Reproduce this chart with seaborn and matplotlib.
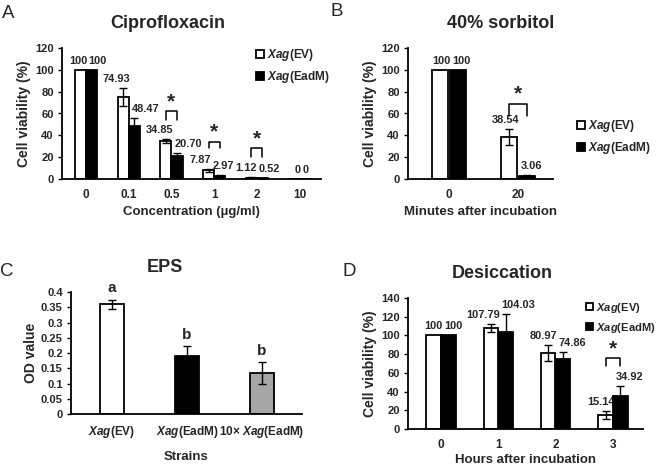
import matplotlib
matplotlib.use("Agg")
import matplotlib.pyplot as plt
from matplotlib.patches import Patch
from matplotlib.ticker import FuncFormatter
import pandas as pd
import seaborn as sns

# ---- data ----
strains = ["EV", "EadM"]

conc = ["0", "0.1", "0.5", "1", "2", "10"]
cipro_ev = [100, 74.93, 34.85, 7.87, 1.12, 0]
cipro_ev_err = [0, 8.0, 1.5, 1.0, 0.3, 0]
cipro_eadm = [100, 48.47, 20.70, 2.97, 0.52, 0]
cipro_eadm_err = [0, 7.2, 3.4, 0.6, 0.2, 0]
cipro_sig = [(2, 62, 8), (3, 34, 6), (4, 28, 7.5)]   # (category, bracket top, arm)

minutes = ["0", "20"]
sorb_ev = [100, 38.54]
sorb_ev_err = [0, 7.3]
sorb_eadm = [100, 3.06]
sorb_eadm_err = [0, 0.6]
sorb_sig = [(1, 69, 11.5)]

eps_strains = ["$\\mathit{Xag}$(EV)", "$\\mathit{Xag}$(EadM)", "10\u00d7 $\\mathit{Xag}$(EadM)"]
eps_od = [0.36, 0.19, 0.135]
eps_err = [0.015, 0.032, 0.036]
eps_letters = ["a", "b", "b"]

hours = ["0", "1", "2", "3"]
desic_ev = [100, 107.79, 80.97, 15.14]
desic_ev_err = [0, 4.5, 8.8, 4.0]
desic_eadm = [100, 104.03, 74.86, 34.92]
desic_eadm_err = [0, 19.0, 7.7, 11.0]
desic_sig = [(3, 75.5, 8.5)]

sns.set_style("ticks")
plt.rcParams["font.family"] = ["Liberation Sans", "DejaVu Sans"]
plt.rcParams["font.weight"] = "bold"
plt.rcParams["axes.labelweight"] = "bold"
plt.rcParams["mathtext.fontset"] = "custom"
plt.rcParams["mathtext.it"] = "Liberation Sans:italic:bold"
plt.rcParams["mathtext.rm"] = "Liberation Sans:bold"

W, H = 658, 465
fig = plt.figure(figsize=(W / 100, H / 100), dpi=100)


def px_axes(l, r, t, b):
    return fig.add_axes([l / W, 1 - b / H, (r - l) / W, (b - t) / H])


def fmt(v):
    return str(int(v)) if float(v).is_integer() else f"{v:.2f}"


def style_axes(ax, ylim, yticks, xlim):
    ax.set_ylim(*ylim)
    ax.set_yticks(yticks)
    ax.set_xlim(*xlim)
    for s in ["top", "right"]:
        ax.spines[s].set_visible(False)
    for s in ["left", "bottom"]:
        ax.spines[s].set_linewidth(1.3)
        ax.spines[s].set_color("black")
    ax.tick_params(axis="x", length=0, pad=7, labelsize=8.5)
    ax.tick_params(axis="y", length=3, width=1, pad=3, labelsize=8, color="black")
    for lab in ax.get_xticklabels() + ax.get_yticklabels():
        lab.set_fontweight("bold")


def grouped(ax, cats, ev, ev_err, eadm, eadm_err, width, gap, nudge=None):
    df = pd.DataFrame({
        "cat": cats * 2,
        "strain": ["EV"] * len(cats) + ["EadM"] * len(cats),
        "value": ev + eadm,
    })
    sns.barplot(data=df, x="cat", y="value", hue="strain", order=cats,
                hue_order=strains, palette={"EV": "white", "EadM": "black"},
                edgecolor="black", linewidth=1.3, width=width, gap=gap,
                errorbar=None, legend=False, ax=ax)
    centers = []
    for cont, errs in zip(ax.containers, [ev_err, eadm_err]):
        xs = []
        for p, e in zip(cont.patches, errs):
            p.set_zorder(2)
            x = p.get_x() + p.get_width() / 2
            xs.append(x)
            if e > 0:
                ax.errorbar(x, p.get_height(), yerr=e, fmt="none", ecolor="black",
                            elinewidth=1, capsize=3, capthick=1, zorder=3)
        centers.append(xs)
    # value labels sit side by side around the category centre
    nudge = nudge or [0] * len(cats)
    for i in range(len(cats)):
        xc = (centers[0][i] + centers[1][i]) / 2
        dx = 1.5 + nudge[i]
        ax.annotate(fmt(ev[i]), (xc, ev[i] + ev_err[i]), xytext=(dx - 0.5, 3),
                    textcoords="offset points", ha="right", va="bottom",
                    fontsize=7.9, fontweight="bold", zorder=1.5)
        ax.annotate(fmt(eadm[i]), (xc, eadm[i] + eadm_err[i]), xytext=(dx + 0.5, 3),
                    textcoords="offset points", ha="left", va="bottom",
                    fontsize=7.9, fontweight="bold", zorder=1.5)
    return centers


def brackets(ax, centers, sigs):
    for i, top, arm in sigs:
        x1, x2 = centers[0][i], centers[1][i]
        ax.plot([x1, x1, x2, x2], [top - arm, top, top, top - arm], color="black", lw=1.1)
        ax.text((x1 + x2) / 2, top, "*", ha="center", va="bottom",
                fontsize=15, fontweight="bold")


legend_handles = [
    Patch(facecolor="white", edgecolor="black", linewidth=1.3, label="$\\mathit{Xag}$(EV)"),
    Patch(facecolor="black", edgecolor="black", linewidth=1.3, label="$\\mathit{Xag}$(EadM)"),
]


def add_legend(ax, x, y, size=8.5):
    ax.legend(handles=legend_handles, loc="upper left", bbox_to_anchor=(x / W, 1 - y / H),
              bbox_transform=fig.transFigure, frameon=False, borderpad=0,
              handlelength=0.65, handleheight=0.65, handletextpad=0.25, labelspacing=0.55,
              prop={"weight": "bold", "size": size})


# ---- A: Ciprofloxacin ----
axA = px_axes(62, 321, 48, 179)
cA = grouped(axA, conc, cipro_ev, cipro_ev_err, cipro_eadm, cipro_eadm_err, 0.52, 0,
             nudge=[0, 0, 0, -3, -1, 0])
brackets(axA, cA, cipro_sig)
style_axes(axA, (0, 120), range(0, 121, 20), (-0.56, 5.5))
axA.set_xlabel("Concentration (\u00b5g/ml)", fontsize=9.5, labelpad=4)
axA.set_ylabel("Cell viability (%)", fontsize=10, labelpad=3)
add_legend(axA, 250, 41)

# ---- B: 40% sorbitol ----
axB = px_axes(408, 553, 48, 179)
cB = grouped(axB, minutes, sorb_ev, sorb_ev_err, sorb_eadm, sorb_eadm_err, 0.52, 0.08)
brackets(axB, cB, sorb_sig)
style_axes(axB, (0, 120), range(0, 121, 20), (-0.594, 1.507))
axB.set_xlabel("Minutes after incubation", fontsize=9.5, labelpad=4)
axB.set_ylabel("Cell viability (%)", fontsize=10, labelpad=3)
add_legend(axB, 571, 112)

# ---- C: EPS ----
axC = px_axes(71, 302, 292, 414)
dfC = pd.DataFrame({"strain": eps_strains, "od": eps_od})
sns.barplot(data=dfC, x="strain", y="od", hue="strain", order=eps_strains,
            palette=["white", "black", "#a6a6a6"], edgecolor="black", linewidth=1.3,
            width=0.33, errorbar=None, legend=False, ax=axC)
for p, v, e, let in zip(axC.patches, eps_od, eps_err, eps_letters):
    x = p.get_x() + p.get_width() / 2
    axC.errorbar(x, v, yerr=e, fmt="none", ecolor="black", elinewidth=1,
                 capsize=3, capthick=1, zorder=3)
    axC.annotate(let, (x, v + e), xytext=(0, 3), textcoords="offset points",
                 ha="center", va="bottom", fontsize=11, fontweight="bold")
style_axes(axC, (0, 0.4), [i * 0.05 for i in range(9)], (-0.547, 2.533))
axC.yaxis.set_major_formatter(FuncFormatter(lambda v, _: f"{v:g}"))
axC.set_xlabel("Strains", fontsize=9.5, labelpad=8)
axC.set_ylabel("OD value", fontsize=10, labelpad=2)

# ---- D: Desiccation ----
axD = px_axes(408, 643, 298, 429)
cD = grouped(axD, hours, desic_ev, desic_ev_err, desic_eadm, desic_eadm_err, 0.52, 0.04)
brackets(axD, cD, desic_sig)
style_axes(axD, (0, 140), range(0, 141, 20), (-0.576, 3.524))
axD.set_xlabel("Hours after incubation", fontsize=9.5, labelpad=2)
axD.set_ylabel("Cell viability (%)", fontsize=10, labelpad=3)
add_legend(axD, 580, 295, size=8)

# ---- titles and panel letters ----
for txt, x, y in [("Ciprofloxacin", 168, 23), ("40% sorbitol", 501, 23),
                  ("EPS", 165, 268), ("Desiccation", 502, 273)]:
    fig.text(x / W, 1 - y / H, txt, ha="center", va="center", fontsize=13, fontweight="bold")
for txt, x, y in [("A", 2, 13), ("B", 331, 12), ("C", 0, 272), ("D", 342, 271)]:
    fig.text(x / W, 1 - y / H, txt, ha="left", va="center", fontsize=13.5, fontweight="normal")

fig.savefig("out.png", dpi=100)
